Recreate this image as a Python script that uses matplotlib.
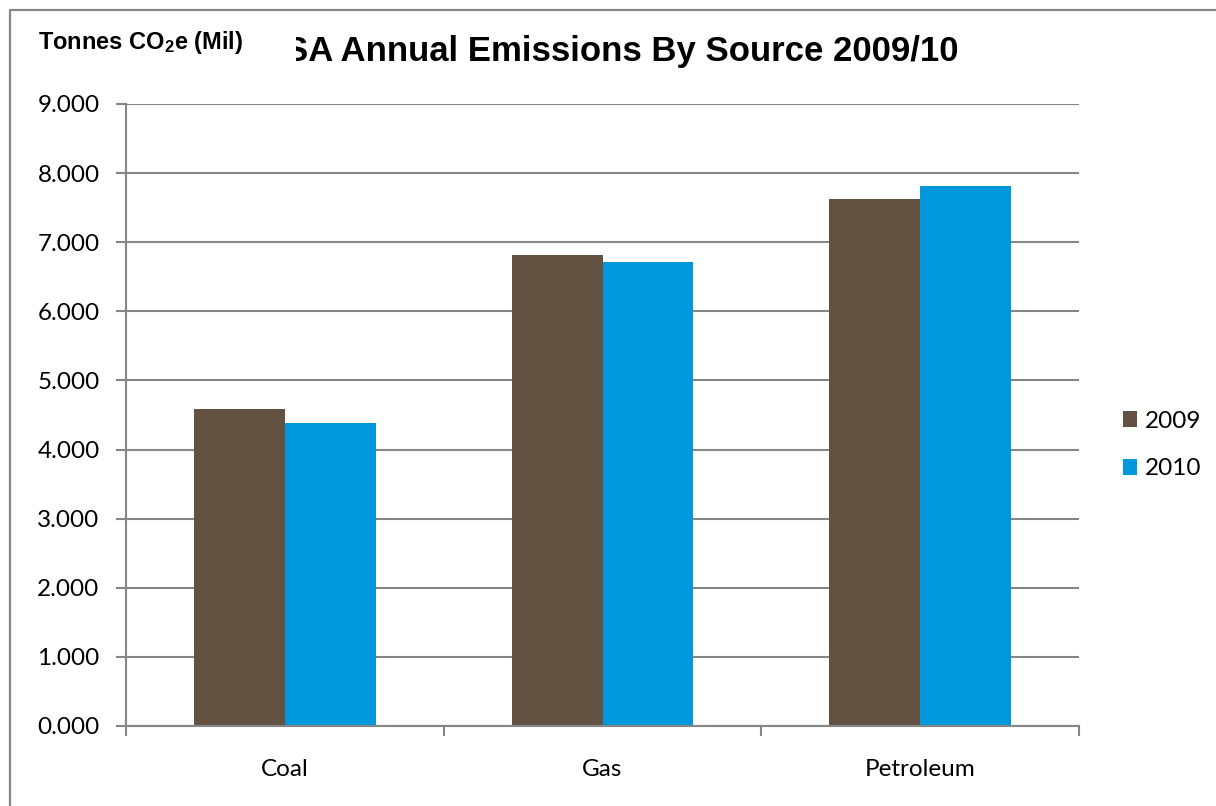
import numpy as np
import matplotlib
matplotlib.use('Agg')
import matplotlib.pyplot as plt
from matplotlib.lines import Line2D
from matplotlib.patches import Rectangle

# chart data
categories = ['Coal', 'Gas', 'Petroleum']
series_names = ['2009', '2010']
values_2009 = [4.59, 6.81, 7.63]
values_2010 = [4.38, 6.71, 7.81]
y_ticks = [0, 1, 2, 3, 4, 5, 6, 7, 8, 9]

COL_2009 = '#635241'
COL_2010 = '#0097DC'
GREY = '#868686'

plt.rcParams['mathtext.fontset'] = 'custom'
plt.rcParams['mathtext.rm'] = 'Liberation Sans:bold'
plt.rcParams['mathtext.it'] = 'Liberation Sans:bold'
plt.rcParams['mathtext.bf'] = 'Liberation Sans:bold'

W, H = 1216, 806
fig = plt.figure(figsize=(W / 100, H / 100), dpi=100)
ax = fig.add_axes([126 / W, 1 - 726 / H, (1079 - 126) / W, (726 - 104) / H])

x = np.arange(len(categories))
w = 0.286
ax.bar(x - w / 2, values_2009, w, color=COL_2009, label=series_names[0], zorder=3)
ax.bar(x + w / 2, values_2010, w, color=COL_2010, label=series_names[1], zorder=3)

ax.set_xlim(-0.5, len(categories) - 0.5)
ax.set_ylim(0, 9)
ax.set_yticks(y_ticks)
ax.set_yticklabels([f'{v:.3f}' for v in y_ticks], family='Lato', fontsize=17.5)
ax.set_xticks(x)
ax.set_xticklabels(categories, family='Lato', fontsize=17.5)
ax.set_xticks(np.arange(len(categories) + 1) - 0.5, minor=True)
ax.tick_params(axis='x', which='major', length=0, pad=24)
ax.tick_params(axis='x', which='minor', length=7, width=1.5, color=GREY, direction='out')
ax.tick_params(axis='y', length=7, width=1.5, color=GREY, direction='out', pad=12)

ax.yaxis.grid(True, color=GREY, linewidth=1.5, zorder=0)
ax.set_axisbelow(True)
for s in ['top', 'right']:
    ax.spines[s].set_visible(False)
for s in ['left', 'bottom']:
    ax.spines[s].set_color(GREY)
    ax.spines[s].set_linewidth(1.5)
    ax.spines[s].set_zorder(4)

fig.legend(loc='center left', bbox_to_anchor=(1101 / W, 1 - 445 / H),
           frameon=False, prop={'family': 'Lato', 'size': 17.5},
           handlelength=0.6, handleheight=0.6, handletextpad=0.3, labelspacing=1.1)

# title, partly hidden behind the axis label box
fig.text(622 / W, 1 - 52 / H, 'SA Annual Emissions By Source 2009/10',
         ha='center', va='center', family='Liberation Sans', weight='bold', fontsize=25,
         zorder=3)
fig.add_artist(Rectangle((20 / W, 1 - 70 / H), (296 - 20) / W, 50 / H,
                         transform=fig.transFigure, facecolor='white',
                         edgecolor='none', zorder=4))
fig.text(38 / W, 1 - 43 / H, r'Tonnes CO$_2$e (Mil)', ha='left', va='center',
         family='Liberation Sans', weight='bold', fontsize=17, zorder=5)

# chart area border (top and left visible)
fig.add_artist(Line2D([10 / W, 10 / W, 1], [0, 1 - 10 / H, 1 - 10 / H],
                      transform=fig.transFigure, color=GREY, linewidth=1.6, zorder=6))

fig.savefig('out.png', dpi=100)
